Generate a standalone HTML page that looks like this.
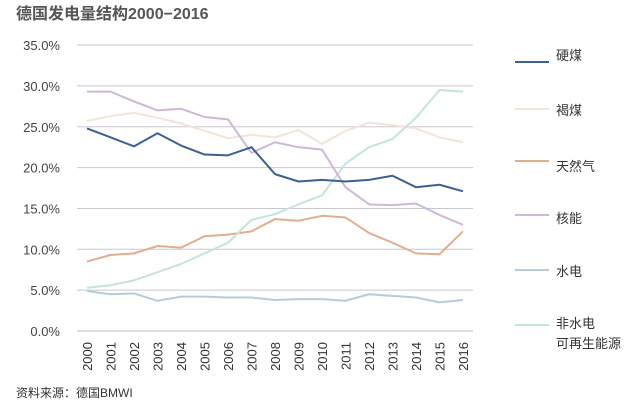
<!DOCTYPE html>
<html><head><meta charset="utf-8"><style>
body{margin:0;background:#fff;}
svg text{font-family:"Liberation Sans","Noto Sans CJK SC",sans-serif;}
</style></head><body>
<svg id="c" width="632" height="409" xmlns="http://www.w3.org/2000/svg">
<rect width="632" height="409" fill="#fff"/>
<text x="16" y="19" font-size="16" font-weight="bold" fill="#555">德国发电量结构2000−2016</text>
<g id="grid"></g>
<g id="lines" fill="none" stroke-width="2" stroke-linejoin="round"></g>
<g font-size="13" fill="#333">
<text x="556" y="60">硬煤</text>
<text x="556" y="115">褐煤</text>
<text x="556" y="171">天然气</text>
<text x="556" y="223">核能</text>
<text x="556" y="276">水电</text>
<text x="556" y="328">非水电</text>
<text x="556" y="348">可再生能源</text>
</g>
<g stroke-width="2">
<line x1="515" y1="62" x2="549" y2="62" stroke="#3a6190"/>
<line x1="515" y1="109" x2="549" y2="109" stroke="#f3e3d8"/>
<line x1="515" y1="161" x2="549" y2="161" stroke="#e2ad8e"/>
<line x1="515" y1="215" x2="549" y2="215" stroke="#cdb8d8"/>
<line x1="515" y1="270" x2="549" y2="270" stroke="#b7cbdc"/>
<line x1="515" y1="325" x2="549" y2="325" stroke="#c3e4dc"/>
</g>
<text x="16" y="397" font-size="12" fill="#333">资料来源：德国BMWI</text>
</svg>
<script>
var ns="http://www.w3.org/2000/svg",svg=document.getElementById('c');
var g=document.getElementById('grid'),L=document.getElementById('lines');
function Y(v){return 331-8.17*v;}function X(i){return 87+23.5*i;}
for(var k=0;k<=7;k++){var v=k*5,y=Y(v);
var l=document.createElementNS(ns,'line');l.setAttribute('x1',77);l.setAttribute('x2',473);l.setAttribute('y1',y);l.setAttribute('y2',y);l.setAttribute('stroke',k==0?'#bbb':'#c8c8d0');l.setAttribute('stroke-width',1);g.appendChild(l);
var t=document.createElementNS(ns,'text');t.setAttribute('x',60);t.setAttribute('y',y+5);t.setAttribute('text-anchor','end');t.setAttribute('font-size',13);t.setAttribute('fill','#444');t.textContent=v.toFixed(1)+'%';g.appendChild(t);}
for(var i=0;i<17;i++){var t=document.createElementNS(ns,'text');var x=X(i)+5,y=342;t.setAttribute('transform','translate('+x+','+y+') rotate(-90)');t.setAttribute('text-anchor','end');t.setAttribute('font-size',13);t.setAttribute('fill','#333');t.textContent=2000+i;g.appendChild(t);}
var S=[
['#f3e3d8',[25.7,26.3,26.7,26.1,25.4,24.5,23.6,24.0,23.7,24.6,22.9,24.5,25.5,25.2,24.8,23.7,23.1]],
['#e2ad8e',[8.5,9.3,9.5,10.4,10.2,11.6,11.8,12.2,13.7,13.5,14.1,13.9,12.0,10.8,9.5,9.4,12.2]],
['#b7cbdc',[4.9,4.5,4.6,3.7,4.2,4.2,4.1,4.1,3.8,3.9,3.9,3.7,4.5,4.3,4.1,3.5,3.8]],
['#c3e4dc',[5.3,5.6,6.2,7.2,8.2,9.5,10.8,13.6,14.3,15.5,16.6,20.5,22.5,23.5,26.1,29.5,29.3]],
['#cdb8d8',[29.3,29.3,28.1,27.0,27.2,26.2,25.9,21.8,23.1,22.5,22.2,17.6,15.5,15.4,15.6,14.2,13.0]],
['#3a6190',[24.8,23.7,22.6,24.2,22.7,21.6,21.5,22.5,19.2,18.3,18.5,18.3,18.5,19.0,17.6,17.9,17.1]]];
S.forEach(function(s){var p=document.createElementNS(ns,'polyline');p.setAttribute('points',s[1].map(function(v,i){return X(i)+','+Y(v)}).join(' '));p.setAttribute('stroke',s[0]);L.appendChild(p);});
</script>
</body></html>
